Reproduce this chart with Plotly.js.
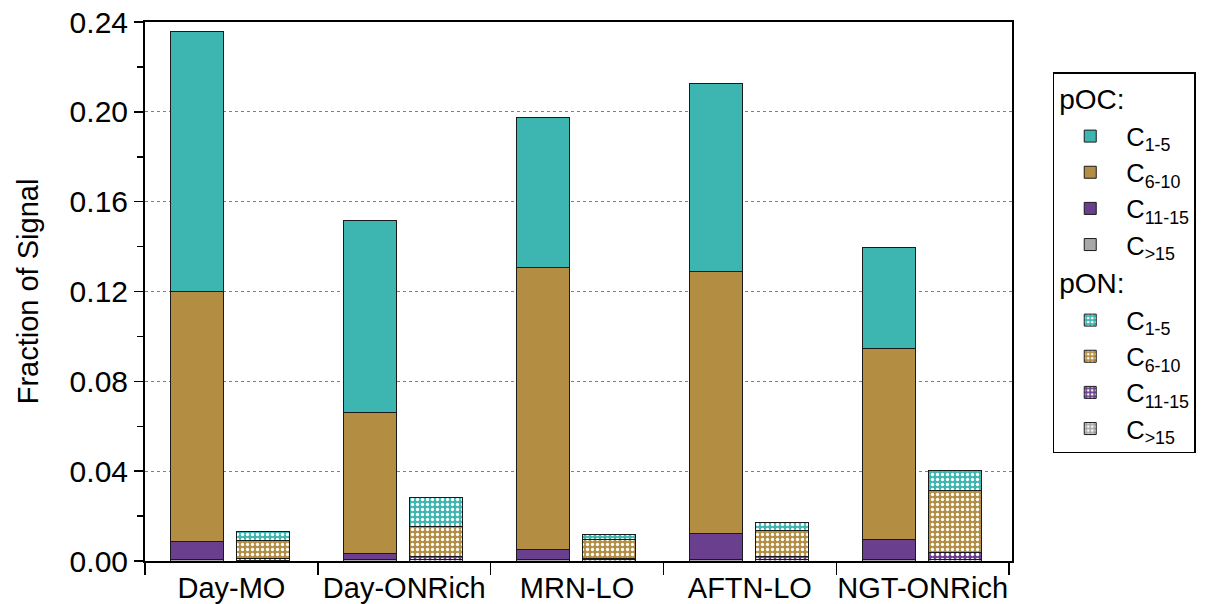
<!DOCTYPE html>
<html>
<head>
<meta charset="utf-8">
<script src="https://cdn.plot.ly/plotly-3.0.1.min.js"></script>
<style>html,body{margin:0;padding:0;background:#fff;}#chart{width:1212px;height:604px;}</style>
</head>
<body>
<div id="chart"></div>
<script>
const categories = ["Day-MO", "Day-ONRich", "MRN-LO", "AFTN-LO", "NGT-ONRich"];
const classLabels = ["C<sub>1-5</sub>", "C<sub>6-10</sub>", "C<sub>11-15</sub>", "C<sub>>15</sub>"];

// pOC fractions per category
const pOC_C1_5   = [0.1160, 0.0855, 0.0672, 0.0833, 0.0450];
const pOC_C6_10  = [0.1110, 0.0629, 0.1255, 0.1168, 0.0850];
const pOC_C11_15 = [0.0080, 0.0026, 0.0042, 0.0115, 0.0086];
const pOC_C15p   = [0.0008, 0.0008, 0.0008, 0.0008, 0.0008];

// pON fractions per category
const pON_C1_5   = [0.0039, 0.0131, 0.0022, 0.0034, 0.0085];
const pON_C6_10  = [0.0083, 0.0133, 0.0082, 0.0119, 0.0279];
const pON_C11_15 = [0.0006, 0.0014, 0.0007, 0.0013, 0.0030];
const pON_C15p   = [0.0004, 0.0006, 0.0005, 0.0006, 0.0007];

const colors = ["#3db5b1", "#b38d42", "#6a3f8d", "#a8a8a8"];
const pOCsets = [pOC_C1_5, pOC_C6_10, pOC_C11_15, pOC_C15p];
const pONsets = [pON_C1_5, pON_C6_10, pON_C11_15, pON_C15p];

const xOC = categories.map((c, i) => i + 0.303);
const xON = categories.map((c, i) => i + 0.685);
const barW = 0.306;

const traces = [];
// bottom-up stacking order: C>15, C11-15, C6-10, C1-5
for (let k = 3; k >= 0; k--) {
  traces.push({
    type: "bar", x: xOC, y: pOCsets[k], width: barW,
    name: classLabels[k], legendgroup: "pOC",
    legendgrouptitle: {text: "pOC:", font: {size: 28}},
    legendrank: k + 1,
    marker: {color: colors[k], line: {color: "#1a1a1a", width: 1}},
    hovertemplate: "%{y}<extra></extra>"
  });
}
for (let k = 3; k >= 0; k--) {
  traces.push({
    type: "bar", x: xON, y: pONsets[k], width: barW,
    name: classLabels[k], legendgroup: "pON",
    legendgrouptitle: {text: "pON:", font: {size: 28}},
    legendrank: 10 + k + 1,
    marker: {color: colors[k], line: {color: "#1a1a1a", width: 1},
      pattern: {shape: ".", bgcolor: colors[k], fgcolor: "#ffffff", size: 5, solidity: 0.35, fillmode: "replace"}},
    hovertemplate: "%{y}<extra></extra>"
  });
}

const layout = {
  width: 1212, height: 604,
  margin: {l: 145, r: 200, t: 22, b: 43},
  paper_bgcolor: "#ffffff", plot_bgcolor: "#ffffff",
  font: {family: "Liberation Sans, Arial, sans-serif", size: 28, color: "#000"},
  barmode: "stack",
  bargap: 0,
  showlegend: true,
  legend: {
    x: 1.047, y: 0.907, xanchor: "left", yanchor: "top",
    bordercolor: "#000", borderwidth: 1.5, bgcolor: "#fff",
    traceorder: "grouped", tracegroupgap: 0,
    itemwidth: 62,
    font: {size: 25.5}
  },
  xaxis: {
    range: [0, 5.017],
    tickmode: "array",
    tickvals: categories.map((c, i) => i + 0.5),
    ticktext: categories,
    ticks: "", showgrid: false, zeroline: false,
    showline: true, linecolor: "#000", linewidth: 2, mirror: true,
    tickfont: {size: 29},
    minor: {tickmode: "linear", tick0: 0, dtick: 1, ticks: "outside", ticklen: 12, tickwidth: 1.5, tickcolor: "#000", showgrid: false}
  },
  yaxis: {
    range: [0, 0.24],
    tickmode: "linear", tick0: 0, dtick: 0.04,
    tickformat: ".2f",
    ticks: "outside", ticklen: 9, tickwidth: 1.5, tickcolor: "#000",
    showgrid: true, gridcolor: "#7f7f7f", gridwidth: 1, griddash: "dot",
    zeroline: false,
    showline: true, linecolor: "#000", linewidth: 2, mirror: true,
    tickfont: {size: 30},
    title: {text: "Fraction of Signal", font: {size: 29}, standoff: 22},
    minor: {tickmode: "linear", tick0: 0, dtick: 0.02, ticks: "outside", ticklen: 6, tickwidth: 1.5, tickcolor: "#000", showgrid: false}
  }
};

Plotly.newPlot("chart", traces, layout, {displayModeBar: false, staticPlot: true});
</script>
</body>
</html>
